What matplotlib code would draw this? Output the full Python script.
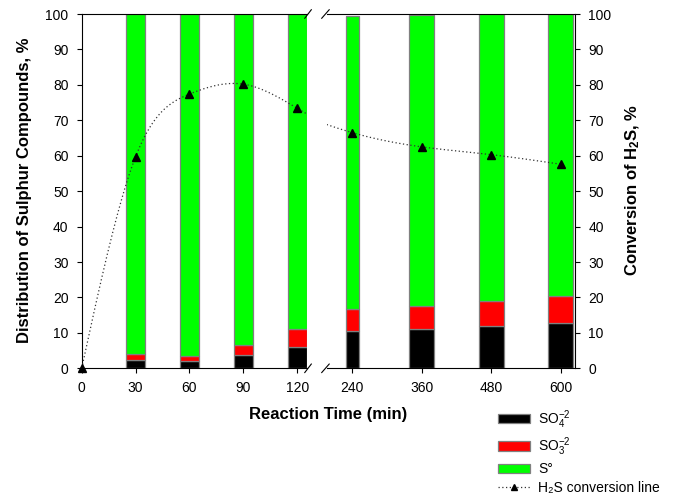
import numpy as np
import matplotlib
matplotlib.use("Agg")
import matplotlib.pyplot as plt
from matplotlib.patches import Patch
from matplotlib.lines import Line2D

plt.rcParams['font.family'] = ['Liberation Sans', 'DejaVu Sans']
plt.rcParams['mathtext.fontset'] = 'custom'
plt.rcParams['mathtext.rm'] = 'Liberation Sans'
plt.rcParams['mathtext.it'] = 'Liberation Sans:italic'
plt.rcParams['mathtext.bf'] = 'Liberation Sans:bold'

# ---- data ----
time_left = [30, 60, 90, 120]
so4_left = [2.3, 2.1, 3.75, 6.0]
so3_left = [1.6, 1.5, 2.95, 5.0]
s_left = [96.1, 96.4, 93.3, 89.0]

time_right = [240, 360, 480, 600]
so4_right = [10.5, 11.0, 12.0, 12.7]
so3_right = [6.2, 6.6, 7.0, 7.6]
s_right = [82.8, 82.0, 81.0, 79.7]

conv_time = [0, 30, 60, 90, 120, 240, 360, 480, 600]
conv = [0, 59.7, 77.4, 80.2, 73.4, 66.5, 62.5, 60.3, 57.6]

xticks_left = [0, 30, 60, 90, 120]
xticks_right = [240, 360, 480, 600]
yticks = list(range(0, 101, 10))


def natural_spline(x, y, t):
    x = np.asarray(x, float); y = np.asarray(y, float); t = np.asarray(t, float)
    n = len(x)
    h = np.diff(x)
    A = np.zeros((n, n)); r = np.zeros(n)
    A[0, 0] = 1; A[-1, -1] = 1
    for i in range(1, n - 1):
        A[i, i - 1] = h[i - 1]
        A[i, i] = 2 * (h[i - 1] + h[i])
        A[i, i + 1] = h[i]
        r[i] = 6 * ((y[i + 1] - y[i]) / h[i] - (y[i] - y[i - 1]) / h[i - 1])
    M = np.linalg.solve(A, r)
    idx = np.clip(np.searchsorted(x, t) - 1, 0, n - 2)
    x0, x1 = x[idx], x[idx + 1]
    hh = x1 - x0
    return (M[idx] * (x1 - t) ** 3 / (6 * hh) + M[idx + 1] * (t - x0) ** 3 / (6 * hh)
            + (y[idx] / hh - M[idx] * hh / 6) * (x1 - t)
            + (y[idx + 1] / hh - M[idx + 1] * hh / 6) * (t - x0))


fig = plt.figure(figsize=(6.73, 4.96), dpi=100)
W, H = 673, 496
axL = fig.add_axes([81.7 / W, 1 - 368.3 / H, (306.8 - 81.7) / W, (368.3 - 14) / H])
axR = fig.add_axes([326.7 / W, 1 - 368.3 / H, (575.3 - 326.7) / W, (368.3 - 14) / H])

edge = '#808080'
cols = ['#000000', '#ff0000', '#00ff00']


def stack(ax, x, a, b, c, w):
    a = np.array(a); b = np.array(b); c = np.array(c)
    ax.bar(x, a, width=w, color=cols[0], edgecolor=edge, linewidth=0.9, zorder=2)
    ax.bar(x, b, width=w, bottom=a, color=cols[1], edgecolor=edge, linewidth=0.9, zorder=2)
    ax.bar(x, c, width=w, bottom=a + b, color=cols[2], edgecolor=edge, linewidth=0.9, zorder=2)


stack(axL, time_left, so4_left, so3_left, s_left, 10.7)
stack(axR, time_right, so4_right, so3_right, s_right, [22, 43, 43, 43])

xl = (0, 125.35)
xr = (195.7, 625.2)

ls = (0, (1, 2))
tL = np.linspace(0, xl[1], 300)
axL.plot(tL, natural_spline(conv_time[:5], conv[:5], tL), color='#333333', linestyle=ls, linewidth=0.9, zorder=3)
tR = np.linspace(xr[0], 600, 300)
axR.plot(tR, natural_spline(conv_time[4:], conv[4:], tR), color='#333333', linestyle=ls, linewidth=0.9, zorder=3)

axL.plot(conv_time[:5], conv[:5], linestyle='none', marker='^', color='black', markersize=6, zorder=4, clip_on=False)
axR.plot(conv_time[5:], conv[5:], linestyle='none', marker='^', color='black', markersize=6, zorder=4, clip_on=False)

for ax in (axL, axR):
    ax.set_ylim(0, 100)
    ax.set_yticks(yticks)
    ax.tick_params(labelsize=10, direction='out', length=3.5, width=0.8)
    ax.tick_params(axis='y', pad=6)
    ax.tick_params(axis='x', pad=5.5)
    for s in ax.spines.values():
        s.set_linewidth(0.8)

axL.set_xlim(*xl)
axL.set_xticks(xticks_left)
axL.spines['right'].set_visible(False)
axR.set_xlim(*xr)
axR.set_xticks(xticks_right)
axR.spines['left'].set_visible(False)
axR.yaxis.tick_right()

fig.text(25 / W, 1 - 190 / H, 'Distribution of Sulphur Compounds, %', fontsize=12, fontweight='bold',
         rotation=90, ha='center', va='center')
fig.text(633 / W, 1 - 190 / H, r'Conversion of H$_\mathbf{2}$S, %', fontsize=12, fontweight='bold',
         rotation=90, ha='center', va='center')
fig.text(328 / W, 1 - 415 / H, 'Reaction Time (min)', fontsize=12, fontweight='bold', ha='center', va='center')

# break marks
kw = dict(color='black', linewidth=0.8, clip_on=False)
for yy in (0, 1):
    axL.plot([1 - 0.009, 1 + 0.02], [yy - 0.012, yy + 0.012], transform=axL.transAxes, **kw)
    axR.plot([-0.02, 0.01], [yy - 0.012, yy + 0.012], transform=axR.transAxes, **kw)

handles = [
    Patch(facecolor=cols[0], edgecolor=edge, linewidth=0.9),
    Patch(facecolor=cols[1], edgecolor=edge, linewidth=0.9),
    Patch(facecolor=cols[2], edgecolor=edge, linewidth=0.9),
    Line2D([], [], color='#333333', linestyle=ls, linewidth=0.9, marker='^', markersize=5,
           markerfacecolor='black', markeredgecolor='black'),
]
labels = [r'SO$_4^{-2}$', r'SO$_3^{-2}$', 'S°', 'H₂S conversion line']
fig.legend(handles, labels, loc='upper left', bbox_to_anchor=(498 / W, 1 - 408 / H), frameon=False,
           fontsize=10, handlelength=2.3, handleheight=0.65, labelspacing=0.33, handletextpad=0.6,
           borderpad=0, borderaxespad=0)

fig.savefig('out.png', dpi=100)
